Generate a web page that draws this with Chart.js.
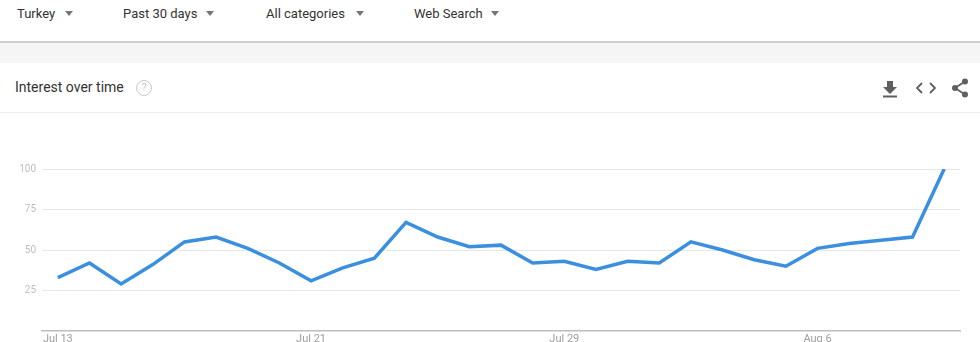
<!DOCTYPE html>
<html><head><meta charset="utf-8">
<script src="https://cdn.jsdelivr.net/npm/chart.js@4"></script>
<style>
html,body{margin:0;padding:0;width:980px;height:342px;overflow:hidden;background:#fff;font-family:Roboto,"Noto Sans",sans-serif;color:#333;}
.f{position:absolute;top:6px;font-size:13px;color:#333;}
.arr{position:absolute;top:11px;width:0;height:0;border-left:4.5px solid transparent;border-right:4.5px solid transparent;border-top:5px solid #757575;}
#bar{position:absolute;left:0;top:41px;width:980px;height:2px;background:#cfcfcf;}
#band{position:absolute;left:0;top:43px;width:980px;height:20px;background:#f5f5f5;}
#title{position:absolute;left:15px;top:79px;font-size:14px;color:#333;}
#q{position:absolute;left:136px;top:80px;width:14px;height:14px;border:1.5px solid #c8c8c8;border-radius:50%;font-size:11px;color:#c8c8c8;text-align:center;line-height:14px;}
#sep{position:absolute;left:0;top:112px;width:980px;height:1px;background:#ececec;}
#c{position:absolute;left:0;top:151px;}
</style></head><body>
<div class="f" style="left:17px">Turkey</div><div class="arr" style="left:65px"></div>
<div class="f" style="left:123px">Past 30 days</div><div class="arr" style="left:206px"></div>
<div class="f" style="left:266px">All categories</div><div class="arr" style="left:356px"></div>
<div class="f" style="left:414px">Web Search</div><div class="arr" style="left:491px"></div>
<div id="bar"></div><div id="band"></div>
<div id="title">Interest over time</div><div id="q">?</div>
<div id="sep"></div>
<svg style="position:absolute;left:882px;top:80px" width="16" height="18" viewBox="0 0 16 18"><path d="M5 1h6v6h4l-7 7-7-7h4z" fill="#5f5f5f"/><rect x="1" y="15.5" width="14" height="2" fill="#5f5f5f"/></svg>
<svg style="position:absolute;left:916px;top:81px" width="20" height="14" viewBox="0 0 20 14"><path d="M6 2L1 7l5 5M14 2l5 5-5 5" stroke="#5f5f5f" stroke-width="1.8" fill="none"/></svg>
<svg style="position:absolute;left:951px;top:78px" width="18" height="20" viewBox="0 0 18 20"><circle cx="14" cy="3.5" r="3" fill="#5f5f5f"/><circle cx="4" cy="10" r="3" fill="#5f5f5f"/><circle cx="14" cy="16.5" r="3" fill="#5f5f5f"/><path d="M14 3.5L4 10l10 6.5" stroke="#5f5f5f" stroke-width="1.8" fill="none"/></svg>
<canvas id="c" width="980" height="210"></canvas>
<script>
const dates = ["Jul 13","Jul 14","Jul 15","Jul 16","Jul 17","Jul 18","Jul 19","Jul 20","Jul 21","Jul 22","Jul 23","Jul 24","Jul 25","Jul 26","Jul 27","Jul 28","Jul 29","Jul 30","Jul 31","Aug 1","Aug 2","Aug 3","Aug 4","Aug 5","Aug 6","Aug 7","Aug 8","Aug 9","Aug 10"];
const interest = [33,42,29,41,55,58,51,42,31,39,45,67,58,52,53,42,43,38,43,42,55,50,44,40,51,54,56,58,100];
const xTickLabels = ["Jul 13","Jul 21","Jul 29","Aug 6"];
const yTicks = [25,50,75,100];

new Chart(document.getElementById('c'), {
  type: 'line',
  data: { labels: dates, datasets: [{ data: interest, borderColor: '#3a8fdf', borderWidth: 3.5, pointRadius: 0, tension: 0, fill: false, borderJoinStyle: 'miter' }] },
  options: {
    responsive: false, animation: false,
    layout: { padding: { top: 18, right: 20, left: 0, bottom: 0 } },
    plugins: { legend: { display: false }, tooltip: { enabled: false } },
    scales: {
      x: {
        offset: true,
        afterFit: s => { s.height = 30; },
        grid: { display: false, drawTicks: false },
        border: { display: true, color: '#bdbdbd', width: 1.5 },
        ticks: { autoSkip: false, maxRotation: 0, padding: 2, color: '#9e9e9e', font: { family: 'Roboto', size: 11 },
          callback: function(v, i) { const l = this.getLabelForValue(v); return xTickLabels.includes(l) ? l : ''; } }
      },
      y: {
        min: 0, max: 100,
        afterFit: s => { s.width = 42; },
        afterBuildTicks: s => { s.ticks = [0].concat(yTicks).map(v => ({ value: v })); },
        border: { display: false },
        grid: { drawTicks: false, color: c => c.tick && c.tick.value === 0 ? 'rgba(0,0,0,0)' : '#e6e6e6', lineWidth: 1 },
        ticks: { padding: 6, color: '#bdbdbd', font: { family: 'Roboto', size: 10 }, callback: v => v === 0 ? '' : v }
      }
    }
  }
});
</script>
</body></html>
